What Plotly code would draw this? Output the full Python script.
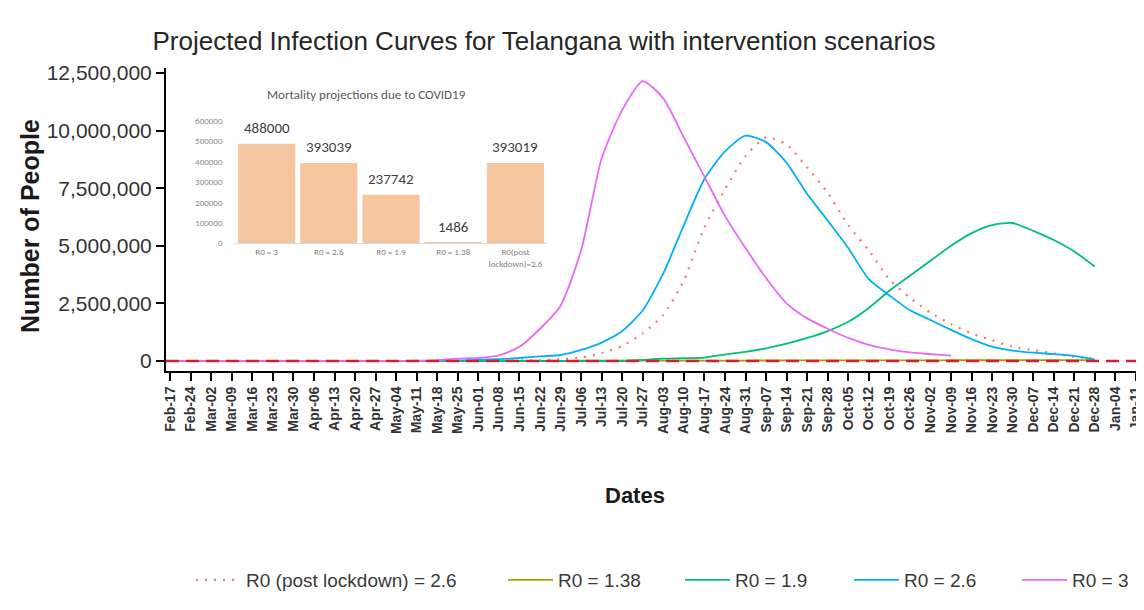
import pandas as pd
import plotly.graph_objects as go

# ---------------- data ----------------
START_DATE = "2020-02-17"          # first weekly tick
N_TICKS = 48                       # Feb-17 ... Jan-11

# weekly projected active infections, in millions of people (starting Feb-17)
r0_post_lockdown_26 = [0, 0, 0, 0, 0, 0, 0, 0, 0, 0, 0, 0, 0, 0, 0, 0, 0,
                       0.02, 0.04, 0.08, 0.15, 0.35, 0.65, 1.2, 2.0, 3.5, 5.8,
                       7.45, 8.9, 9.7, 9.4, 8.4, 7.3, 5.9, 4.8, 3.55, 2.75,
                       2.1, 1.6, 1.2, 0.9, 0.62, 0.47, 0.33, 0.18, 0.1]
r0_138 = [0, 0, 0, 0, 0, 0, 0, 0, 0.001, 0.001, 0.002, 0.002, 0.003, 0.004,
          0.004, 0.005, 0.006, 0.007, 0.008, 0.009, 0.010, 0.011, 0.012, 0.014,
          0.015, 0.016, 0.018, 0.019, 0.020, 0.022, 0.023, 0.024, 0.025, 0.027,
          0.028, 0.029, 0.030, 0.031, 0.032, 0.033, 0.033, 0.034, 0.034, 0.035,
          0.035, 0.035]
r0_19 = [0, 0, 0, 0, 0, 0, 0, 0, 0, 0, 0, 0, 0, 0, 0, 0, 0, 0, 0, 0, 0, 0, 0,
         0.05, 0.1, 0.12, 0.15, 0.28, 0.4, 0.55, 0.75, 1.0, 1.3, 1.7, 2.3,
         3.05, 3.7, 4.35, 5.0, 5.55, 5.9, 5.99, 5.65, 5.25, 4.75, 4.1]
r0_26 = [0, 0, 0, 0, 0, 0, 0, 0, 0, 0, 0, 0, 0, 0, 0.02, 0.05, 0.08, 0.13,
         0.2, 0.26, 0.48, 0.8, 1.3, 2.2, 3.8, 5.9, 7.9, 9.1, 9.78, 9.5, 8.6,
         7.25, 6.1, 4.9, 3.55, 2.85, 2.2, 1.78, 1.35, 0.95, 0.62, 0.45, 0.36,
         0.3, 0.22, 0.06]
r0_3 = [0, 0, 0, 0, 0, 0, 0, 0, 0, 0, 0, 0, 0.01, 0.04, 0.1, 0.13, 0.24,
        0.62, 1.4, 2.4, 4.8, 8.8, 10.9, 12.15, 11.4, 9.7, 8.0, 6.3, 4.9, 3.6,
        2.5, 1.85, 1.4, 1.0, 0.7, 0.5, 0.37, 0.3, 0.23]

series_names = ["R0 (post lockdown) = 2.6", "R0 = 1.38", "R0 = 1.9",
                "R0 = 2.6", "R0 = 3"]
series_colors = ["#F8766D", "#A3A500", "#00BF7D", "#00B0F6", "#E76BF3"]

y_tickvals = [0, 2500000, 5000000, 7500000, 10000000, 12500000]

# inset: mortality projections
mortality_categories = ["R0 = 3", "R0 = 2.6", "R0 = 1.9", "R0 = 1.38",
                        "R0(post<br>lockdown)=2.6"]
mortality_values = [488000, 393039, 237742, 1486, 393019]
inset_y_tickvals = [0, 100000, 200000, 300000, 400000, 500000, 600000]

# ---------------- figure ----------------
dates = pd.date_range(START_DATE, periods=N_TICKS, freq="7D")
all_series = [r0_post_lockdown_26, r0_138, r0_19, r0_26, r0_3]
legend_ids = ["legend", "legend2", "legend3", "legend4", "legend5"]

fig = go.Figure()
for name, vals, color, lg in zip(series_names, all_series, series_colors, legend_ids):
    dash = "2px,7px" if name.startswith("R0 (post") else "solid"
    width = 2.2 if dash != "solid" else 1.8
    fig.add_trace(go.Scatter(
        x=dates[:len(vals)], y=[v * 1e6 for v in vals], name=name,
        mode="lines", line=dict(color=color, width=width, dash=dash,
                                shape="spline", smoothing=0.6),
        legend=lg, hoverinfo="skip"))

fig.add_trace(go.Bar(
    x=mortality_categories, y=mortality_values, xaxis="x2", yaxis="y2",
    marker=dict(color="#F6C6A1", line=dict(width=0)), showlegend=False,
    hoverinfo="skip"))

FONT = "Liberation Sans, Arial, sans-serif"
INSET_FONT = "Carlito, Open Sans, sans-serif"
annotations = []
for cat, v in zip(mortality_categories, mortality_values):
    annotations.append(dict(x=cat, y=v, xref="x2", yref="y2", text=str(v),
                            showarrow=False, yshift=16,
                            font=dict(size=15, color="#404040", family=INSET_FONT)))
annotations += [
    dict(text="Mortality projections due to COVID19", x=0.2058, y=0.9109,
         xref="paper", yref="paper", showarrow=False, xanchor="center",
         yanchor="middle", font=dict(size=13, color="#595959", family=INSET_FONT)),
    dict(text="Number of People", x=-0.1399, y=0.4785, xref="paper",
         yref="paper", showarrow=False, textangle=-90, xanchor="center",
         yanchor="middle", font=dict(size=25, color="#1a1a1a", family=FONT, weight="bold")),
    dict(text="Dates", x=0.4825, y=-0.4125, xref="paper", yref="paper",
         showarrow=False, xanchor="center", yanchor="middle",
         font=dict(size=22, color="#1a1a1a", family=FONT, weight="bold")),
]

legend_text_x = [238, 550, 727, 896, 1064]   # pixel x where legend text starts
legend_layouts = {}
for lg, tx in zip(legend_ids, legend_text_x):
    legend_layouts[lg] = dict(
        x=(tx - 55 - 158) / 972, y=-0.69, xanchor="left", yanchor="middle",
        orientation="h", bgcolor="rgba(0,0,0,0)", borderwidth=0,
        itemwidth=45, font=dict(size=19, color="#3a3a3a", family=FONT))

fig.update_layout(
    width=1144, height=610,
    margin=dict(l=158, r=14, t=60, b=247, autoexpand=False),
    paper_bgcolor="white", plot_bgcolor="white",
    font=dict(family=FONT, color="#333333"),
    title=dict(text="Projected Infection Curves for Telangana with intervention scenarios",
               x=0.4685, y=0.946, xref="container", yref="container",
               xanchor="center", yanchor="middle",
               font=dict(size=26, color="#262626", family=FONT)),
    xaxis=dict(type="date", range=["2020-02-15 14:00", "2021-01-11 17:00"],
               tickmode="linear", tick0=START_DATE, dtick=7 * 86400000,
               tickformat="%b-%d", tickangle=-90, ticks="outside", ticklen=8,
               tickwidth=1.5, tickcolor="black", showline=True,
               linecolor="black", linewidth=2, showgrid=False, zeroline=False,
               automargin=False,
               tickfont=dict(size=14, color="#333333", family=FONT, weight="bold")),
    yaxis=dict(range=[-434000, 12717000], tickvals=y_tickvals,
               tickformat=",", ticks="outside", ticklen=8, tickwidth=2,
               tickcolor="black", showline=True, linecolor="black",
               linewidth=2, showgrid=False, zeroline=False, automargin=False,
               tickfont=dict(size=21, color="#333333", family=FONT)),
    xaxis2=dict(domain=[0.0715, 0.3915], anchor="y2", type="category",
                showline=True, linecolor="#d9d9d9", linewidth=1, ticks="",
                tickangle=0, showgrid=False, zeroline=False,
                tickfont=dict(size=9, color="#7f7f7f", family=INSET_FONT)),
    yaxis2=dict(domain=[0.4224, 0.8251], anchor="x2", range=[0, 600000],
                tickvals=inset_y_tickvals, tickformat="d", ticks="",
                showline=False, showgrid=False, zeroline=False,
                ticklabelstandoff=12,
                tickfont=dict(size=9, color="#8c8c8c", family=INSET_FONT)),
    bargap=0.08,
    shapes=[dict(type="line", xref="paper", x0=0, x1=1, yref="y", y0=0, y1=0,
                 line=dict(color="#CC2233", width=2.5, dash="13px,7px"),
                 layer="above")],
    annotations=annotations,
    **legend_layouts,
)

fig.write_html("out.html")
